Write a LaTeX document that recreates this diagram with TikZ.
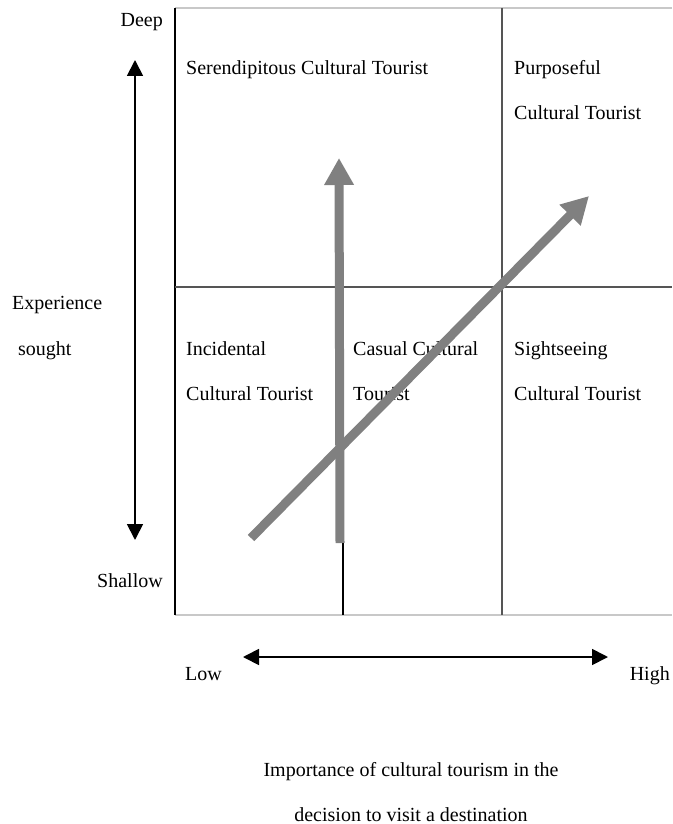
\documentclass[tikz,border=0pt]{standalone}
\usepackage{fontspec}
\setmainfont{Liberation Serif}
\usetikzlibrary{arrows.meta}
\definecolor{arrowgray}{HTML}{808080}
\definecolor{lightline}{HTML}{C8C8C8}
\definecolor{darkline}{HTML}{555555}
\tikzset{
  lbl/.style={inner sep=0pt, font=\fontsize{20}{24}\selectfont},
  bigarrow/.style={draw=arrowgray, line width=9pt, -{Triangle[length=27pt,width=28pt]}},
  axisarrow/.style={draw=black, line width=1.8pt, {Triangle[length=16pt,width=16pt]}-{Triangle[length=16pt,width=16pt]}},
  frameline/.style={line width=1.3pt},
}
\begin{document}
\begin{tikzpicture}[x=1pt,y=-1pt]
\useasboundingbox (0,0) rectangle (672,824);
% grid coordinates
\coordinate (tl) at (175,8);
\coordinate (tr) at (672,8);
\coordinate (bl) at (175,615);
\coordinate (br) at (672,615);
\coordinate (ml) at (175,287);
\coordinate (mr) at (672,287);
\coordinate (vt) at (502,8);
\coordinate (vb) at (502,615);
\coordinate (st) at (343,287);
\coordinate (sb) at (343,615);
% grid lines
\draw[lightline, line width=1.2pt] (tl) -- (tr);
\draw[lightline, line width=1.2pt] (bl) -- (br);
\draw[frameline, black] (tl) -- (bl);
\draw[frameline, darkline] (ml) -- (mr);
\draw[frameline, darkline] (vt) -- (vb);
\draw[line width=1.1pt, black] (st) -- (sb);
% texts
\node[lbl, anchor=base east] (deep) at (163,27) {Deep};
\node[lbl, anchor=base east] (shallow) at (163,587) {Shallow};
\node[lbl, anchor=base west] (exp) at (12,309) {Experience};
\node[lbl, anchor=base west] (sought) at (18,355) {sought};
\node[lbl, anchor=base west] (ser) at (186,75) {Serendipitous Cultural Tourist};
\node[lbl, anchor=base west] (pur1) at (514,75) {Purposeful};
\node[lbl, anchor=base west] (pur2) at (514,120) {Cultural Tourist};
\node[lbl, anchor=base west] (inc1) at (186,355) {Incidental};
\node[lbl, anchor=base west] (inc2) at (186,400) {Cultural Tourist};
\node[lbl, anchor=base west] (cas1) at (353,355) {Casual Cultural};
\node[lbl, anchor=base west] (cas2) at (353,400) {Tourist};
\node[lbl, anchor=base west] (sig1) at (514,355) {Sightseeing};
\node[lbl, anchor=base west] (sig2) at (514,400) {Cultural Tourist};
\node[lbl, anchor=base west] (low) at (185,680) {Low};
\node[lbl, anchor=base east] (high) at (670,680) {High};
\node[lbl, anchor=base] (imp1) at (411,776) {Importance of cultural tourism in the};
\node[lbl, anchor=base] (imp2) at (411,821) {decision to visit a destination};
% axis arrows
\coordinate (ytop) at (135,60);
\coordinate (ybot) at (135,540);
\coordinate (xl) at (243,657);
\coordinate (xr) at (608,657);
\draw[axisarrow] (ybot) -- (ytop);
\draw[axisarrow] (xl) -- (xr);
% gray arrows
\coordinate (ga1s) at (340,543);
\coordinate (ga1e) at (339,158);
\coordinate (ga2s) at (251,538);
\coordinate (ga2e) at (589,196);
\draw[bigarrow] (ga1s) -- (ga1e);
\draw[bigarrow] (ga2s) -- (ga2e);
\end{tikzpicture}
\end{document}
